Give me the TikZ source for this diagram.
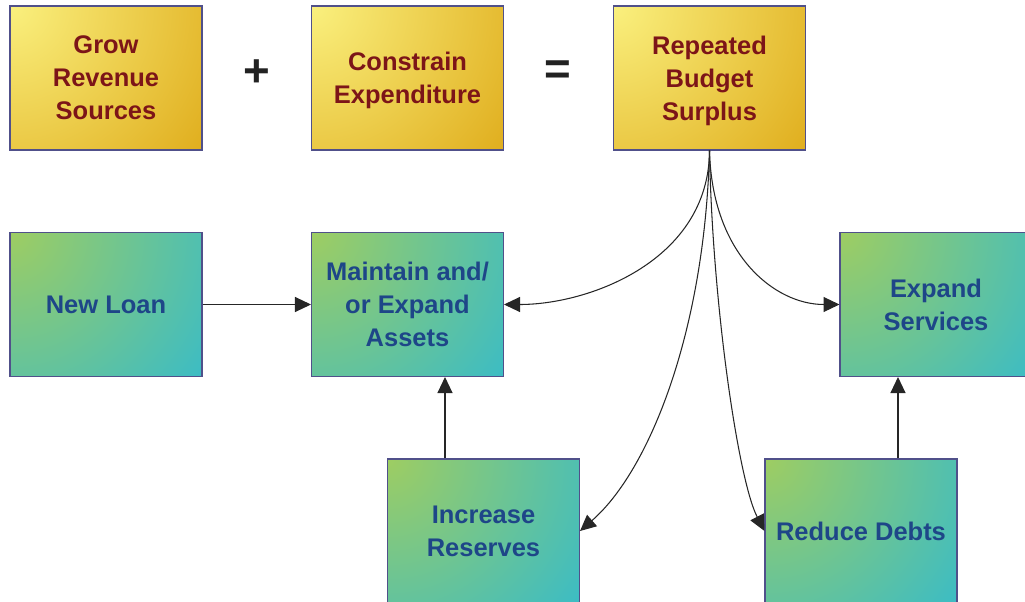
\documentclass[tikz,border=0pt]{standalone}
\usepackage{fontspec}
\setmainfont{Liberation Sans}
\usetikzlibrary{arrows.meta}

\definecolor{goldlight}{HTML}{FAF07E}
\definecolor{golddark}{HTML}{E0AE1E}
\definecolor{greenlight}{HTML}{9ECD62}
\definecolor{tealdark}{HTML}{3CBCC4}
\definecolor{boxedge}{HTML}{50508A}
\definecolor{redtext}{HTML}{7C1518}
\definecolor{bluetext}{HTML}{1E4688}
\definecolor{optext}{HTML}{222222}

% glows spreading from the top-left corner of each card
\pgfdeclareradialshading{goldglow}{\pgfpoint{0bp}{0bp}}{color(0bp)=(goldlight); color(12bp)=(golddark); color(50bp)=(golddark)}
\pgfdeclareradialshading{greenglow}{\pgfpoint{0bp}{0bp}}{color(0bp)=(greenlight); color(12bp)=(tealdark); color(50bp)=(tealdark)}

\tikzset{
  card/.style={draw=boxedge, line width=0.6pt, inner sep=0pt,
    minimum width=3.84cm, minimum height=2.88cm, align=center,
    text depth=-0.08cm,
    font=\fontsize{14.5}{18.8}\selectfont\bfseries},
  goalcard/.style={card, text=redtext,
    path picture={\shade[shading=goldglow]
      (path picture bounding box.north west) circle (10cm);}},
  usecard/.style={card, text=bluetext,
    path picture={\shade[shading=greenglow]
      (path picture bounding box.north west) circle (10cm);}},
  operator/.style={text=optext, font=\fontsize{26}{30}\selectfont\bfseries},
  flow/.style={draw=black!85, line width=0.6pt,
    -{Triangle[length=0.32cm, width=0.3cm]}}
}

\begin{document}
\begin{tikzpicture}[x=0.02cm, y=-0.02cm]
\useasboundingbox (0,0) rectangle (1025,602);
\clip (0,0) rectangle (1025,602);

% top row: the surplus equation
\node[goalcard] (grow) at (106,78) {Grow\\Revenue\\Sources};
\node[operator] (plus) at (257,73) {+};
\node[goalcard] (constrain) at (407.5,78) {Constrain\\Expenditure};
\node[operator] (equals) at (558,73) {=};
\node[goalcard] (surplus) at (709.5,78) {Repeated\\Budget\\Surplus};

% what the surplus is used for
\node[usecard] (loan) at (106,304.5) {New Loan};
\node[usecard] (assets) at (407.5,304.5) {Maintain and/\\or Expand\\Assets};
\node[usecard] (services) at (936,304.5) {Expand\\Services};
\node[usecard] (reserves) at (483.5,531) {Increase\\Reserves};
\node[usecard] (debts) at (861,531) {Reduce Debts};

% straight connectors
\draw[flow] (loan.east) -- (assets.west);
\draw[flow] (reserves.north -| 445,0) -- (assets.south -| 445,0);
\draw[flow] (debts.north -| 898,0) -- (services.south -| 898,0);

% curved connectors fanning out of the surplus
\draw[flow] (surplus.south) .. controls (709,260) and (590,304.5) .. (assets.east);
\draw[flow] (surplus.south) .. controls (712,255) and (775,304.5) .. (services.west);
\draw[flow] (surplus.south) .. controls (705,330) and (650,470) .. (reserves.east);
\draw[flow] (surplus.south) .. controls (712,300) and (738,480) .. (debts.west);
\end{tikzpicture}
\end{document}
